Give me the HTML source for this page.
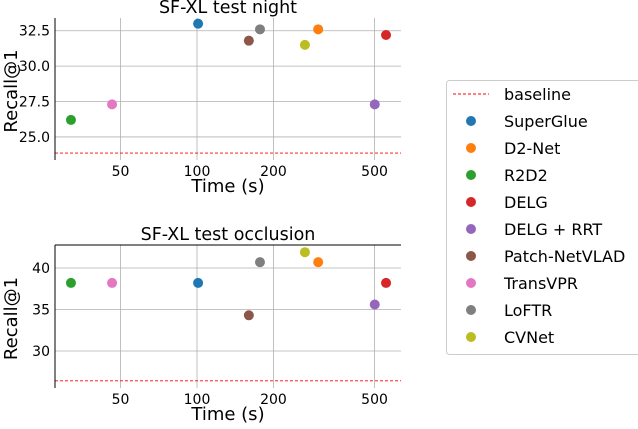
<!DOCTYPE html>
<html><head><meta charset="utf-8"><style>body{margin:0;background:#fff}svg{font-family:"DejaVu Sans","Liberation Sans",sans-serif}</style></head>
<body>
<svg id="c" width="638" height="424" xmlns="http://www.w3.org/2000/svg"></svg>
<script>
const methods=["SuperGlue","D2-Net","R2D2","DELG","DELG + RRT","Patch-NetVLAD","TransVPR","LoFTR","CVNet"];
const colors=["#1f77b4","#ff7f0e","#2ca02c","#d62728","#9467bd","#8c564b","#e377c2","#7f7f7f","#bcbd22"];
const times=[101,300,31.9,555,501,160,46.3,177,266];
const nightRecall=[33.0,32.6,26.2,32.2,27.3,31.8,27.3,32.6,31.5];
const occRecall=[38.2,40.7,38.2,38.2,35.6,34.3,38.2,40.7,41.9];
const nightBaseline=23.86, occBaseline=26.4;
const xTicks=[50,100,200,500];
const nightYTicks=[25.0,27.5,30.0,32.5];
const occYTicks=[30,35,40];
const svg=document.getElementById('c');
const NS="http://www.w3.org/2000/svg";
function el(t,a,p){const e=document.createElementNS(NS,t);for(const k in a)e.setAttribute(k,a[k]);(p||svg).appendChild(e);return e;}
const L=55,R=401;
const xs=t=>197+Math.log10(t/100)*254;
function panel(top,bot,ymin,ymax,yt,fmt,vals,base,title,name,topSpine){
  const g=el('g',{});
  
  
  const ys=v=>bot-(v-ymin)/(ymax-ymin)*(bot-top);
  xTicks.forEach(t=>{const x=xs(t);
    el('line',{x1:x,x2:x,y1:top,y2:bot,stroke:'#b0b0b0','stroke-width':0.8},g);
    const tx=el('text',{x:x,y:bot+16,'font-size':14,'text-anchor':'middle'},g);tx.textContent=t;
    });
  yt.forEach(v=>{const y=ys(v);
    el('line',{x1:L,x2:R,y1:y,y2:y,stroke:'#b0b0b0','stroke-width':0.8},g);
    const tx=el('text',{x:L-5,y:y+5,'font-size':14,'text-anchor':'end'},g);tx.textContent=fmt(v);
    });
  const bl=el('line',{x1:L,x2:R,y1:ys(base),y2:ys(base),stroke:'#ff0000','stroke-width':0.9,'stroke-dasharray':'3,2'},g);
  
  el('line',{x1:L,x2:L,y1:top,y2:bot,stroke:'#000','stroke-width':1},g);
  if(topSpine) el('line',{x1:L,x2:R,y1:top,y2:top,stroke:'#000','stroke-width':1},g);
  vals.forEach((v,i)=>{const c=el('circle',{cx:xs(times[i]),cy:ys(v),r:5,fill:colors[i]},g);
    
    });
  const tt=el('text',{x:(L+R)/2,y:top-5,'font-size':17.5,'text-anchor':'middle'},g);tt.textContent=title;
  
  const xl=el('text',{x:(L+R)/2,y:bot+32,'font-size':18,'text-anchor':'middle'},g);xl.textContent='Time (s)';
  
  const yl=el('text',{x:0,y:0,'font-size':18,'text-anchor':'middle',transform:`translate(17,${(top+bot)/2+2}) rotate(-90)`},g);yl.textContent='Recall@1';
  
}
panel(18,160,23.37,33.4,nightYTicks,v=>v.toFixed(1),nightRecall,nightBaseline,'SF-XL test night','night-panel',false);
panel(245,388,25.54,42.77,occYTicks,v=>String(v),occRecall,occBaseline,'SF-XL test occlusion','occlusion-panel',true);
const lg=el('g',{});


el('rect',{x:446.5,y:80.5,width:200,height:274,rx:3,fill:'#fff',stroke:'#ccc'},lg);
el('line',{x1:453,x2:489,y1:94,y2:94,stroke:'#ff0000','stroke-dasharray':'3,2'},lg);
const bt=el('text',{x:504,y:100,'font-size':16},lg);bt.textContent='baseline';
methods.forEach((m,i)=>{const y=121+i*27;
  const c=el('circle',{cx:471,cy:y,r:5,fill:colors[i]},lg);
  
  const t=el('text',{x:504,y:y+6,'font-size':16},lg);t.textContent=m;
  });
</script>
</body></html>
